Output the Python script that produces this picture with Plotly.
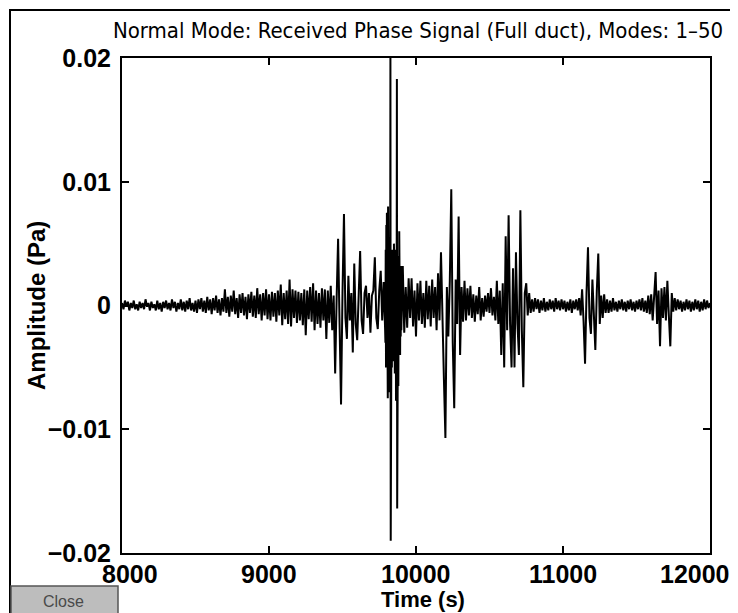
import plotly.graph_objects as go

# ---- data (amplitudes in mPa) ----
seg1_start, seg1_step = 8000, 10
seg1_mpa = [
    0.2, -0.3, 0.4, -0.1, 0.3, -0.4, 0.2, -0.2, 0.4, -0.3,
    0.1, -0.4, 0.3, -0.2, 0.2, -0.3, 0.5, -0.1, 0.2, -0.4,
    0.3, -0.2, 0.1, -0.4, 0.4, -0.3, 0.2, -0.5, 0.3, -0.2,
    0.4, -0.3, 0.2, -0.4, 0.5, -0.2, 0.3, -0.5, 0.2, -0.3,
    0.5, -0.4, 0.3, -0.5, 0.4, -0.3, 0.6, -0.4, 0.2, -0.5,
    0.4, -0.6, 0.5, -0.3, 0.6, -0.5, 0.4, -0.6, 0.7, -0.4,
    0.5, -0.7, 0.6, -0.4, 0.8, -0.6, 0.5, -0.8, 0.6, -0.5,
    1.3, -0.6, 0.7, -0.9, 0.8, -0.5, 1.2, -0.7, 0.6, -1.0,
    0.9, -0.6, 1.0, -0.8, 0.7, -1.1, 0.9, -0.6, 1.1, -0.9,
    0.8, -1.0, 1.4, -0.7, 0.9, -1.2, 1.0, -0.8, 1.3, -1.1,
    0.9, -1.2, 1.1, -0.9, 1.0, -1.3, 1.2, -0.8, 1.7, -1.6,
    1.0, -1.1, 1.2, -1.5, 2.1, -1.7, 1.3, -1.0, 1.2, -1.4,
    1.1, -1.2, 1.0, -1.6, 1.3, -2.4, 1.2, -1.1, 1.5, -1.3,
    1.8, -2.0, 1.2, -1.5, 1.0, -1.8, 1.4, -1.2, 1.3, -2.7,
    1.2, -1.4, 1.6, -2.0, 0.8, -5.5, 0.5, 5.4, -1.5, -8.0,
    1.0, 7.4, -1.0, -2.7, 2.4, -1.2, 1.0, -3.8, 3.4, -1.5,
    -2.8, 1.5, 4.4, -1.2, -2.3, 1.0, 1.6, -1.0, 1.0, -2.2,
    0.8, 1.2, 3.9, -1.0, -1.9, 1.2, 2.8, -1.2, 1.9, -2.0,
]

burst_start, burst_step = 9792, 2
burst_mpa = [
    -3.0, 4.5, -5.0, 6.5, -4.0, 7.5, -6.0, 5.0, -7.5, 8.0,
    -5.0, 6.0, -7.0, 4.0, -4.5, 5.5, -3.5, 20.0, -19.0, 4.0,
    -4.5, 3.5, -5.0, 4.5, -3.5, 4.0, -4.0, 3.0, -4.5, 5.0,
    -3.5, 4.0, -5.5, 3.5, -4.0, 4.5, -7.7, 3.0, -4.0, 18.3,
    -16.4, 5.0, -4.5, 3.5, -6.5, 4.0, -3.0, 6.0, -3.5, 2.5,
    -4.0, 3.0, -2.5, 3.2, -2.0,
]

seg3_start, seg3_step = 9910, 10
seg3_mpa = [
    3.2, -2.2, 1.5, -1.8, 2.2, -1.0, 2.2, -1.7, 1.2,
    -2.5, 1.8, -1.2, 2.0, -1.5, 1.0, -1.8, 2.0, -1.1, 1.6,
    -1.7, 2.1, -1.0, 1.5, -2.0, 2.6, -1.2, 4.3, -2.0, -6.0,
    -10.7, 1.5, -2.5, 2.0, 9.4, -3.0, -8.3, 2.1, -1.5, 7.2,
    -4.0, 1.5, -1.3, 2.0, -1.2, 1.4, -0.8, 1.6, -1.0, 0.9,
    -1.3, 0.8, -0.7, 1.5, -1.2, 0.6, -0.9, 0.8, -0.5, 1.0,
    -0.6, 1.4, -0.8, 0.7, -1.2, 2.0, -1.5, 1.2, -4.0, 1.8,
    -5.0, 5.6, -2.0, 7.3, -1.5, -5.0, 3.0, -5.0, 4.3, -1.5,
    -4.0, 7.7, -2.0, -6.6, 1.0, 1.8, -0.8, 1.0, -0.6, 0.5,
    -0.5, 0.6, -0.3, 0.5, -0.6, 0.4, -0.4, 0.6, -0.5, 0.3,
    -0.4, 0.5, -0.3, 0.4, -0.5, 0.6, -0.3, 0.4, -0.4, 0.5,
    -0.3, 0.4, -0.5, 0.3, -0.4, 0.5, -0.6, 0.4, -0.3, 0.5,
    -0.4, 0.6, -0.8, 1.3, -1.3, -4.7, 1.0, 4.7, -1.0, -2.3,
    2.1, -1.0, -3.6, 1.2, 4.2, -1.5, 0.8, -1.0, 0.9, -0.6,
    0.5, -0.6, 0.4, -0.5, 0.6, -0.4, 0.3, -0.5, 0.4, -0.3,
    0.5, -0.4, 0.3, -0.5, 0.4, -0.3, 0.5, -0.4, 0.3, -0.5,
    0.4, -0.3, 0.5, -0.4, 0.6, -0.5, 0.4, -0.6, 0.8, -0.7,
    0.9, -1.2, 1.0, 2.7, -1.5, 1.2, -3.3, 1.4, -1.0, 1.5,
    -1.2, 2.0, -0.8, -3.3, 1.0, -0.5, 0.6, -0.4, 0.5, -0.3,
    0.4, -0.5, 0.3, -0.4, 0.5, -0.3, 0.4, -0.5, 0.3, -0.4,
    0.5, -0.3, 0.4, -0.5, 0.3, -0.4, 0.5, -0.3, 0.4, -0.2,
    0.2,
]

x_ticks = [8000, 9000, 10000, 11000, 12000]
x_tick_labels = ["8000", "9000", "10000", "11000", "12000"]
y_ticks = [0.02, 0.01, 0, -0.01, -0.02]
y_tick_labels = ["0.02", "0.01", "0", "\u22120.01", "\u22120.02"]

title_text = "Normal Mode: Received Phase Signal (Full duct), Modes: 1\u201350"
x_title = "Time (s)"
y_title = "Amplitude (Pa)"

# ---- assemble samples ----
time_s, amp_pa = [], []
for start, step, vals in [(seg1_start, seg1_step, seg1_mpa),
                          (burst_start, burst_step, burst_mpa),
                          (seg3_start, seg3_step, seg3_mpa)]:
    for i, v in enumerate(vals):
        time_s.append(start + i * step)
        amp_pa.append(v / 1000.0)

W, H = 738, 613
L, R, T, B = 114, 36, 50, 68
pw, ph = W - L - R, H - T - B

def px(xp):
    return (xp - L) / pw

def py(yp):
    return (H - B - yp) / ph

TITLE_FONT = "DejaVu Sans Condensed, Liberation Sans, sans-serif"
BOLD_FONT = "Liberation Sans, Arial, Helvetica, sans-serif"
tick_font = dict(family=BOLD_FONT, size=25, color="black", weight="bold")

fig = go.Figure()
fig.add_trace(go.Scatter(x=time_s, y=amp_pa, mode="lines",
                         line=dict(color="black", width=2),
                         hoverinfo="skip", showlegend=False))

axis_common = dict(showline=True, linecolor="black", linewidth=2, mirror="ticks",
                   ticks="inside", ticklen=7, tickwidth=1.5, tickcolor="black",
                   showgrid=False, zeroline=False, automargin=False, tickfont=tick_font)

# x tick labels are written just below the axis (the end ones nudged inward, as in the reference)
fig.update_xaxes(range=[8000, 12000], tickvals=x_ticks, showticklabels=False, **axis_common)
fig.update_yaxes(range=[-0.02, 0.02], tickvals=y_ticks, ticktext=y_tick_labels,
                 ticklabelstandoff=4, **axis_common)

x_label_shift = {8000: 8, 12000: -15}
for tv, tl in zip(x_ticks, x_tick_labels):
    fig.add_annotation(text=tl, xref="x", yref="paper", x=tv, y=py(566),
                       xanchor="center", yanchor="middle", showarrow=False,
                       xshift=x_label_shift.get(tv, 0), font=tick_font)

fig.update_layout(
    width=W, height=H, margin=dict(l=L, r=R, t=T, b=B, autoexpand=False),
    paper_bgcolor="white", plot_bgcolor="white",
    title=dict(text=title_text, x=px(410), xanchor="center", xref="paper",
               y=1 - 22 / H, yanchor="middle", yref="container",
               font=dict(family=TITLE_FONT, size=22, color="black")),
)

fig.add_annotation(text=x_title, xref="paper", yref="paper", x=px(415), y=py(591),
                   xanchor="center", yanchor="middle", showarrow=False,
                   font=dict(family=BOLD_FONT, size=22, color="black", weight="bold"))
fig.add_annotation(text=y_title, xref="paper", yref="paper", x=px(28), y=py(298),
                   xanchor="center", yanchor="middle", showarrow=False, textangle=-90,
                   font=dict(family=BOLD_FONT, size=24, color="black", weight="bold"))

# outer window frame
fig.add_shape(type="rect", xref="paper", yref="paper",
              x0=px(2), x1=px(736), y0=py(611), y1=py(2),
              line=dict(color="black", width=2), layer="below")
# Close button
fig.add_shape(type="rect", xref="paper", yref="paper",
              x0=px(3), x1=px(110), y0=py(609), y1=py(578),
              fillcolor="#bdbdbd", line=dict(color="#555555", width=1.5))
fig.add_annotation(text="Close", xref="paper", yref="paper", x=px(55), y=py(593),
                   xanchor="center", yanchor="middle", showarrow=False,
                   font=dict(family="Liberation Sans, Arial, sans-serif", size=16, color="#4a4a4a"))

fig.write_html("out.html")
